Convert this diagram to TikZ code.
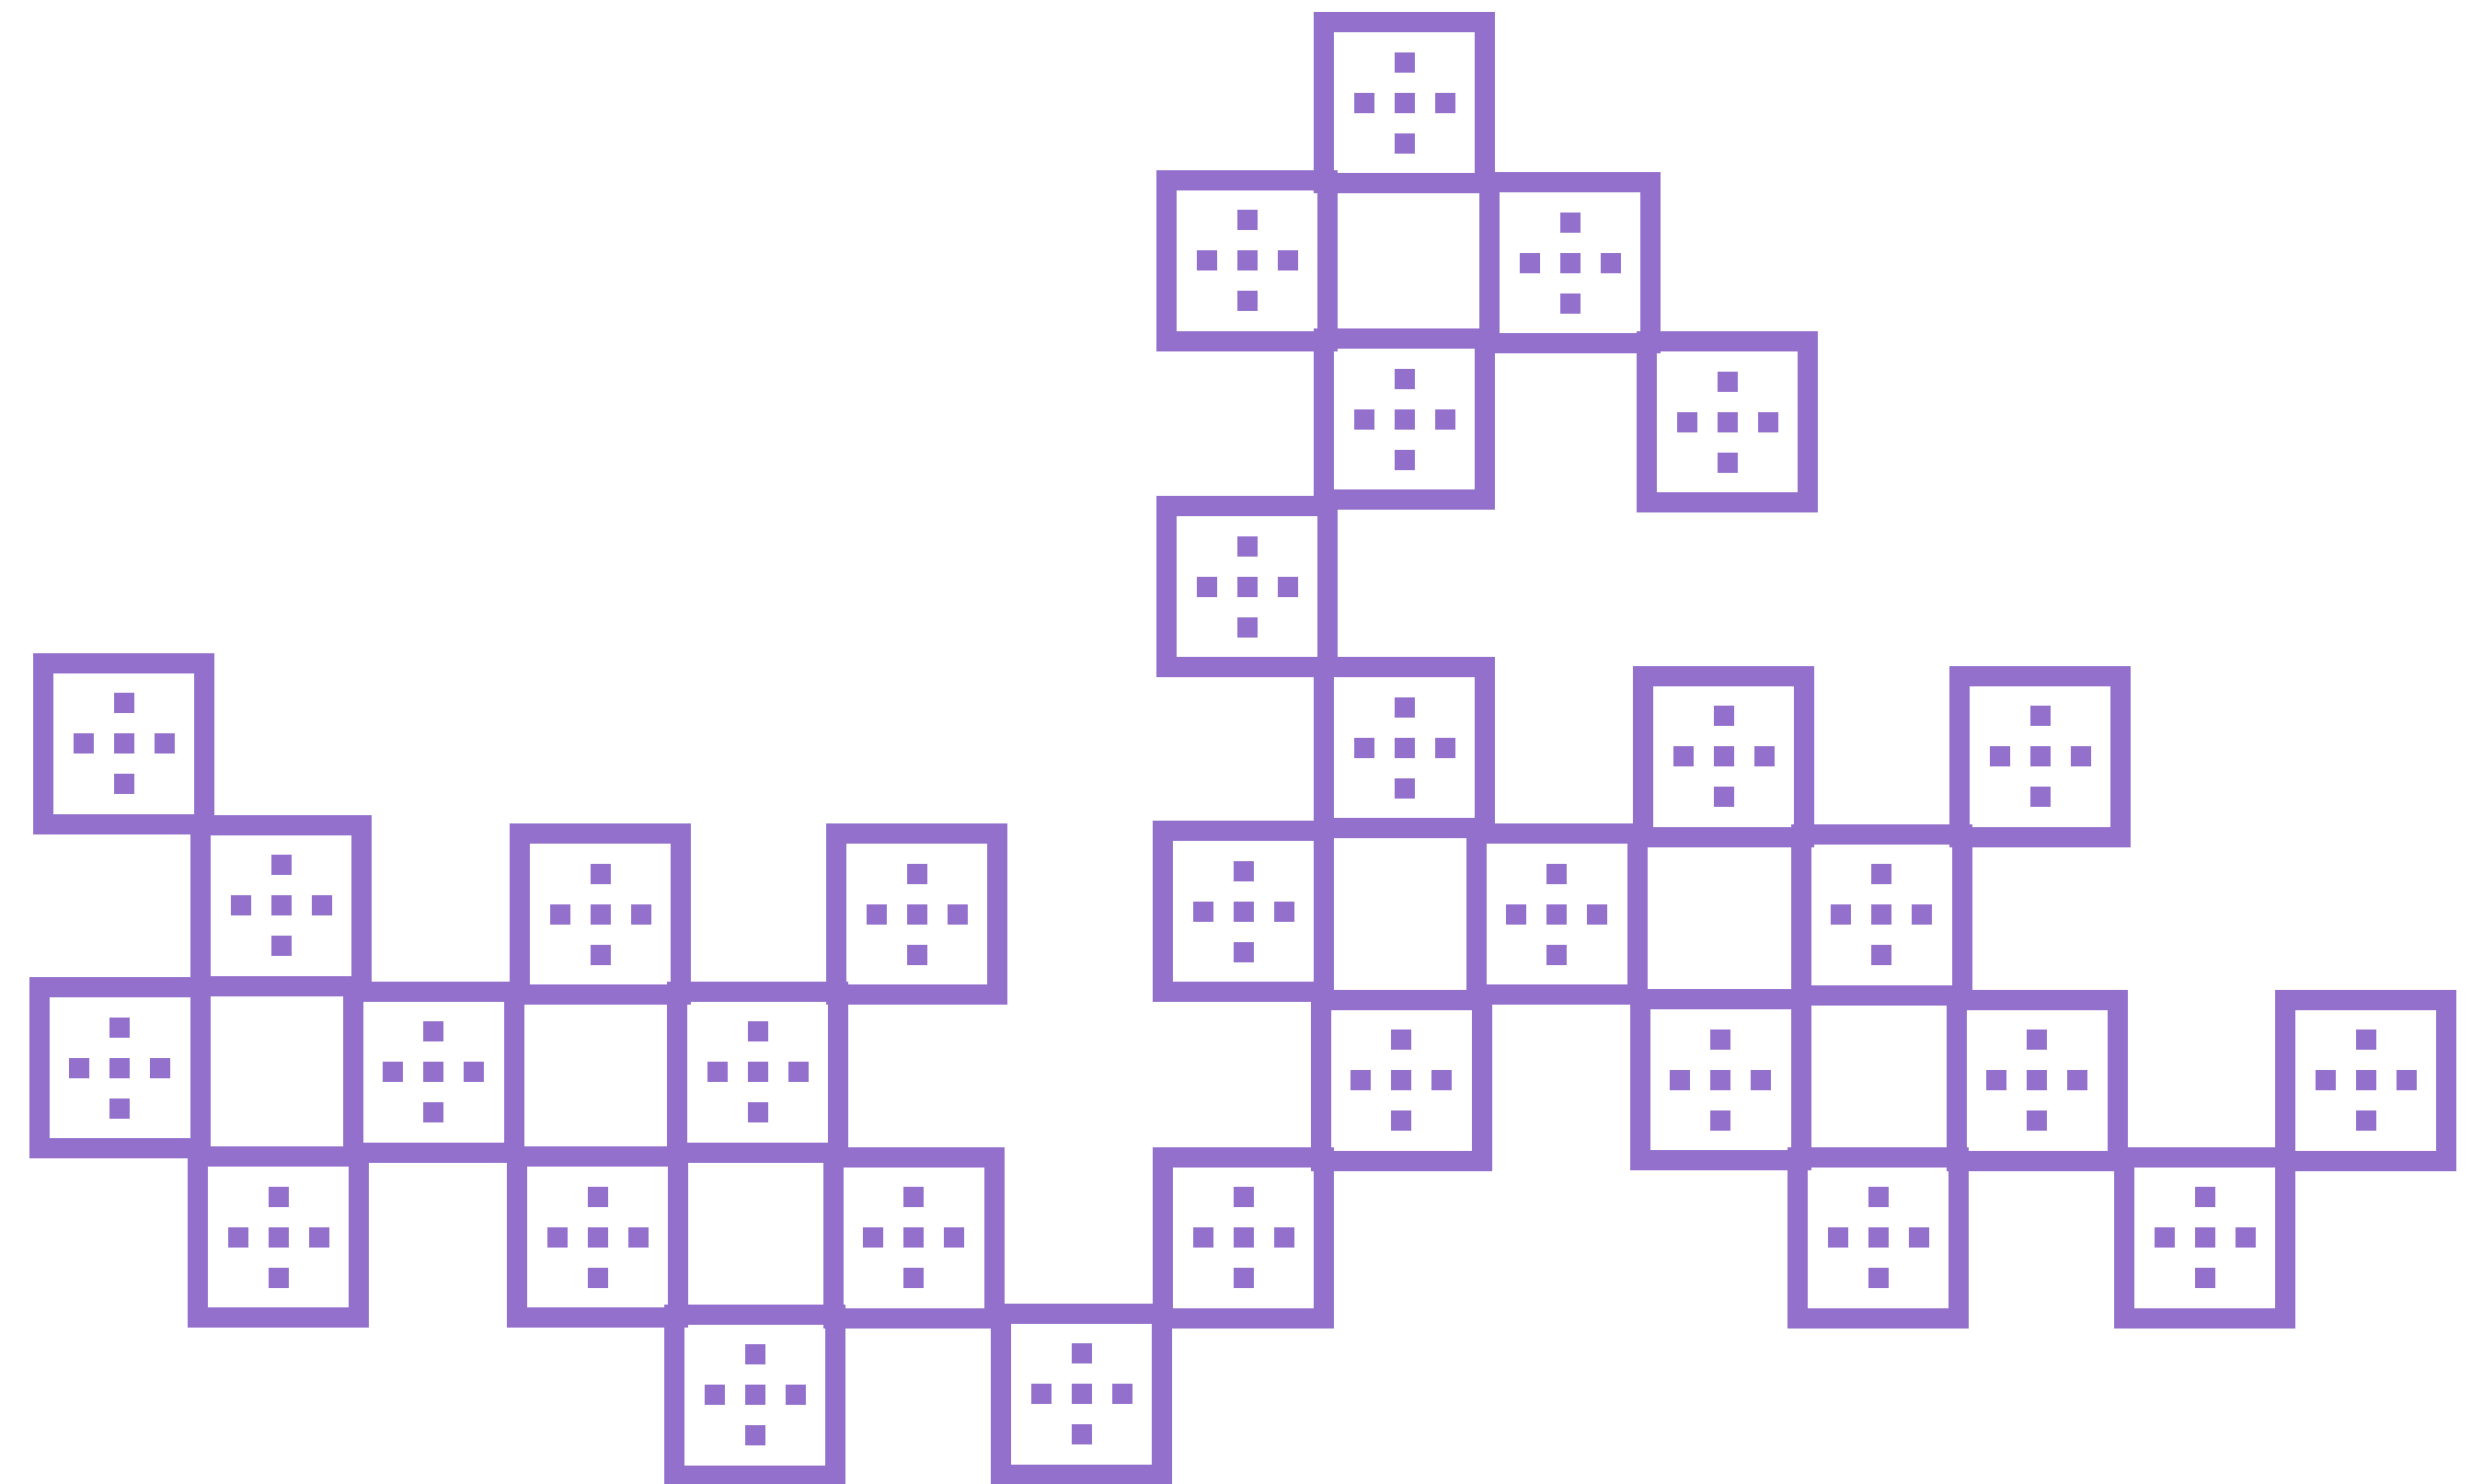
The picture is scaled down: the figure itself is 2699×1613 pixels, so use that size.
\documentclass[tikz,border=0pt]{standalone}
\definecolor{tilepurple}{HTML}{9270CC}
\begin{document}
\begin{tikzpicture}[x=0.1mm,y=-0.1mm,
  tile/.style={draw=tilepurple, line width=2.2mm, minimum width=17.5mm, minimum height=17.5mm, inner sep=0pt, outer sep=0pt},
  dot/.style={fill=tilepurple}]
\useasboundingbox (0,0) rectangle (2699,1613);
\foreach \n/\cx/\cy in {
  a/1526.5/112, b/1355.5/283.5, c/1706.5/286, d/1526.5/456, e/1877.5/459,
  f/1355.5/638, g/1526.5/813, h/1873.5/822.5, i/2217.5/822.5, j/134.5/808.5,
  k/305.5/984, l/652.5/993.5, m/996.5/993.5, n/1351.5/990.5, o/1692/993.5,
  p/2045/994, q/130/1160.5, r/471/1165, s/823.5/1165, t/1523/1174,
  u/1870/1173.5, v/2214/1174, w/2571.5/1174, x/302.5/1344.5, y/649.5/1344.5,
  z/993/1345, aa/1351.5/1345, ab/2041.5/1345, ac/2396.5/1345, ad/820.5/1516,
  ae/1175.5/1515}{
  \node[tile] (t\n) at (\cx,\cy) {};
  \foreach \dx/\dy in {0/0,44/0,-44/0,0/44,0/-44}
    \fill[dot] (\cx+\dx-11,\cy+\dy-11) rectangle +(22,22);
}
\end{tikzpicture}
\end{document}
